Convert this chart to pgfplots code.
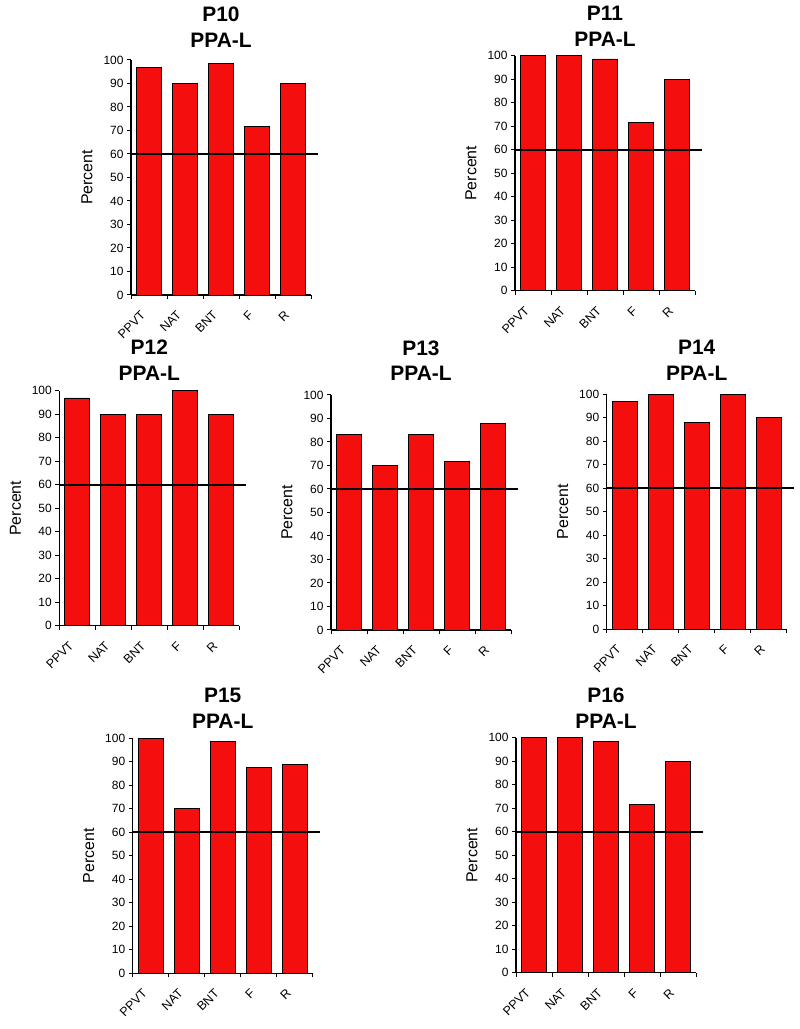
\documentclass[border=0pt]{standalone}
\usepackage{fontspec}
\setmainfont{Liberation Sans}
\usepackage{pgfplots}
\pgfplotsset{compat=1.18}
\definecolor{barred}{RGB}{245,14,14}
\pgfplotsset{panel/.style={
  scale only axis, width=180bp, height=235bp,
  xmin=-0.5, xmax=4.5, ymin=0, ymax=100,
  axis x line=bottom, axis y line=left,
  axis line style={-, line width=1.1bp},
  ytick={0,10,20,30,40,50,60,70,80,90,100},
  xtick={-0.5,0.5,1.5,2.5,3.5,4.5}, xticklabels={,,,,,},
  extra x ticks={0,1,2,3,4}, extra x tick labels={PPVT,NAT,BNT,F,R},
  extra x tick style={major tick length=0pt,
    tick label style={xshift=-9bp, yshift=-10bp, rotate=45, anchor=north east, font=\fontsize{12.5}{13}\selectfont}},
  tick align=outside, major tick length=4bp, tick style={black, line width=1bp},
  yticklabel style={font=\fontsize{12}{13}\selectfont},
  ylabel={Percent},
  ylabel style={font=\fontsize{16}{18}\selectfont, at={(axis description cs:-0.244,0.5)}, anchor=center},
  title style={font=\bfseries\fontsize{21}{26}\selectfont, align=center, at={(0.5,1)}, anchor=south},
  clip=false,
  /pgf/number format/assume math mode=true,
  anchor=south west,
}}
\newcommand{\bars}[1]{\addplot[ybar, bar width=0.69, fill=barred, draw=black, line width=0.9bp] coordinates {#1};
  \addplot[black, line width=2.2bp, forget plot] coordinates {(-0.5,60) (4.69,60)};}
\begin{document}
\begin{tikzpicture}
\useasboundingbox (0,0) rectangle (800bp,1029bp);
% P10
\begin{axis}[panel, at={(131bp,734bp)}, title={P10\\PPA-L}, title style={yshift=3bp}]
\bars{(0,97) (1,90) (2,98.6) (3,71.6) (4,90.2)}
\end{axis}
% P11
\begin{axis}[panel, at={(515bp,738.3bp)}, title={P11\\PPA-L}]
\bars{(0,100) (1,100) (2,98.6) (3,71.6) (4,90)}
\end{axis}
% P12
\begin{axis}[panel, at={(59.3bp,403.3bp)}, title={P12\\PPA-L}, title style={yshift=1bp}]
\bars{(0,96.9) (1,90) (2,90) (3,100) (4,90)}
\end{axis}
% P13
\begin{axis}[panel, at={(331bp,399bp)}, title={P13\\PPA-L}, title style={yshift=4.5bp}]
\bars{(0,83) (1,70) (2,83) (3,71.6) (4,88)}
\end{axis}
% P14
\begin{axis}[panel, at={(606.7bp,399.7bp)}, title={P14\\PPA-L}, title style={yshift=4.5bp}]
\bars{(0,97) (1,100) (2,88) (3,100) (4,90)}
\end{axis}
% P15
\begin{axis}[panel, at={(132.7bp,55.7bp)}, title={P15\\PPA-L}]
\bars{(0,100) (1,70) (2,98.5) (3,87.6) (4,89)}
\end{axis}
% P16
\begin{axis}[panel, at={(516bp,56.3bp)}, title={P16\\PPA-L}]
\bars{(0,100) (1,100) (2,98.5) (3,71.6) (4,90)}
\end{axis}
\end{tikzpicture}
\end{document}
